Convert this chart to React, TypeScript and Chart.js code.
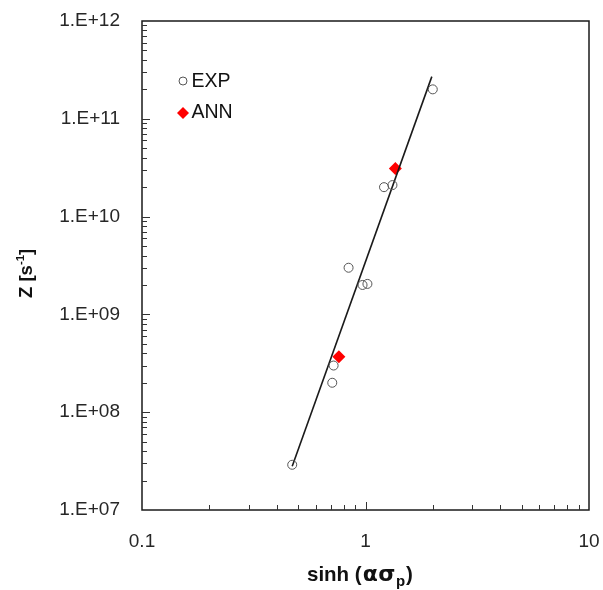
import React, { useEffect, useRef } from 'react';
import { Chart, registerables } from 'chart.js';

Chart.register(...registerables);

// ---- data ----
const expX = [2.0, 1.21, 1.32, 0.84, 0.97, 1.02, 0.72, 0.71, 0.47];
const expY = [2.0e11, 2.0e10, 2.1e10, 3.0e9, 2.0e9, 2.05e9, 3.0e8, 2.0e8, 2.9e7];
const annX = [1.36, 0.76];
const annY = [3.1e10, 3.7e8];
const fitX = [0.47, 1.98];
const fitY = [2.8e7, 2.7e11];
const seriesNames = ['EXP', 'ANN'];
const xTickValues = [0.1, 1, 10];
const xTickLabels = ['0.1', '1', '10'];
const yTickValues = [1e7, 1e8, 1e9, 1e10, 1e11, 1e12];
const yTickLabels = ['1.E+07', '1.E+08', '1.E+09', '1.E+10', '1.E+11', '1.E+12'];

const FONT = '"Liberation Sans", Arial, sans-serif';
const GREEK = '"DejaVu Sans", "Liberation Sans", sans-serif';
const TEXT = '#262626';

const findLabel = (vals: number[], labels: string[], v: number) => {
  const i = vals.findIndex((t) => Math.abs(t - v) / t < 1e-6);
  return i >= 0 ? labels[i] : '';
};

const framePlugin = {
  id: 'frame',
  afterDraw(chart: any) {
    const { ctx, chartArea: a, scales } = chart;
    const xs = scales.x;
    const ys = scales.y;
    ctx.save();
    // box
    ctx.strokeStyle = '#1a1a1a';
    ctx.lineWidth = 1.5;
    ctx.strokeRect(a.left, a.top, a.right - a.left, a.bottom - a.top);
    // ticks
    ctx.lineWidth = 1;
    ctx.strokeStyle = '#333';
    ctx.beginPath();
    for (let n = -1; n <= 0; n++) {
      for (let k = 1; k <= 9; k++) {
        const v = k * Math.pow(10, n);
        if (k === 1 && n === -1) continue;
        const px = Math.round(xs.getPixelForValue(v)) + 0.5;
        const len = k === 1 ? 8 : 5;
        ctx.moveTo(px, a.bottom);
        ctx.lineTo(px, a.bottom - len);
      }
    }
    for (let n = 7; n <= 11; n++) {
      for (let k = 1; k <= 9; k++) {
        if (k === 1 && n === 7) continue;
        const v = k * Math.pow(10, n);
        const py = Math.round(ys.getPixelForValue(v)) + 0.5;
        const len = k === 1 ? 8 : 5;
        ctx.moveTo(a.left, py);
        ctx.lineTo(a.left + len, py);
      }
    }
    ctx.stroke();

    // legend
    const lx = 183;
    const ly = [81, 113];
    ctx.strokeStyle = '#555';
    ctx.lineWidth = 1;
    ctx.beginPath();
    ctx.arc(lx, ly[0], 4, 0, Math.PI * 2);
    ctx.stroke();
    ctx.fillStyle = '#ff0000';
    ctx.beginPath();
    ctx.moveTo(lx, ly[1] - 6);
    ctx.lineTo(lx + 6, ly[1]);
    ctx.lineTo(lx, ly[1] + 6);
    ctx.lineTo(lx - 6, ly[1]);
    ctx.closePath();
    ctx.fill();
    ctx.fillStyle = '#111';
    ctx.font = `19.5px ${FONT}`;
    ctx.textBaseline = 'middle';
    ctx.textAlign = 'left';
    ctx.fillText(seriesNames[0], 191.5, ly[0] + 1);
    ctx.fillText(seriesNames[1], 191.5, ly[1]);

    // x title: sinh (ασp)
    ctx.textBaseline = 'alphabetic';
    ctx.fillStyle = '#111';
    const big = `bold 20.5px ${FONT}`;
    const greek = `bold 22px ${GREEK}`;
    const small = `bold 15px ${FONT}`;
    const by = 581;
    const pieces = [
      { t: 'sinh (', f: big, dy: 0, g: 1 },
      { t: '\u03B1', f: greek, dy: 0, g: 0.5 },
      { t: '\u03C3', f: greek, dy: 0, g: 0.5 },
      { t: 'p', f: small, dy: 5, g: 1 },
      { t: ')', f: big, dy: 0, g: 0 },
    ];
    let cx = 307;
    pieces.forEach((p) => {
      ctx.font = p.f;
      ctx.fillText(p.t, cx, by + p.dy);
      cx += ctx.measureText(p.t).width + p.g;
    });

    // y title: Z [s-1]
    ctx.save();
    ctx.translate(32, 298);
    ctx.rotate(-Math.PI / 2);
    const ybig = `bold 18.5px ${FONT}`;
    const ysmall = `bold 11.5px ${FONT}`;
    let yx = 0;
    ctx.font = ybig;
    const q1 = 'Z [s';
    ctx.fillText(q1, yx, 0);
    yx += ctx.measureText(q1).width;
    ctx.font = ysmall;
    ctx.fillText('-1', yx, -8);
    yx += ctx.measureText('-1').width;
    ctx.font = ybig;
    ctx.fillText(']', yx, 0);
    ctx.restore();

    ctx.restore();
  },
};

export default function App() {
  const ref = useRef<HTMLCanvasElement | null>(null);
  useEffect(() => {
    if (!ref.current) return;
    const chart = new Chart(ref.current, {
      type: 'scatter',
      data: {
        datasets: [
          {
            label: seriesNames[0],
            data: expX.map((v, i) => ({ x: v, y: expY[i] })),
            pointStyle: 'circle',
            pointRadius: 4.5,
            borderColor: '#555',
            borderWidth: 1,
            backgroundColor: 'rgba(0,0,0,0)',
          },
          {
            label: 'fit',
            data: fitX.map((v, i) => ({ x: v, y: fitY[i] })),
            showLine: true,
            borderColor: '#1a1a1a',
            borderWidth: 1.6,
            pointRadius: 0,
          },
          {
            label: seriesNames[1],
            data: annX.map((v, i) => ({ x: v, y: annY[i] })),
            pointStyle: 'rectRot',
            pointRadius: 6.5,
            borderWidth: 0,
            borderColor: '#ff0000',
            backgroundColor: '#ff0000',
          },
        ],
      },
      options: {
        animation: false,
        responsive: false,
        maintainAspectRatio: false,
        layout: { padding: { top: 21, right: 14, left: 0, bottom: 0 } },
        plugins: { legend: { display: false }, tooltip: { enabled: false } },
        scales: {
          x: {
            type: 'logarithmic',
            position: 'bottom',
            min: 0.1,
            max: 10,
            afterBuildTicks: (s: any) => {
              s.ticks = xTickValues.map((v) => ({ value: v }));
            },
            afterFit: (s: any) => {
              s.height = 80;
              s.paddingLeft = 0;
              s.paddingRight = 0;
              s.paddingTop = 0;
              s.paddingBottom = 0;
            },
            grid: { display: false, drawTicks: false, tickLength: 0 },
            border: { display: false },
            ticks: {
              autoSkip: false,
              maxRotation: 0,
              padding: 20,
              color: TEXT,
              font: { family: FONT, size: 19 },
              callback: (v: any) => findLabel(xTickValues, xTickLabels, Number(v)),
            },
          },
          y: {
            type: 'logarithmic',
            position: 'left',
            min: 1e7,
            max: 1e12,
            afterBuildTicks: (s: any) => {
              s.ticks = yTickValues.map((v) => ({ value: v }));
            },
            afterFit: (s: any) => {
              s.width = 142;
              s.paddingLeft = 0;
              s.paddingRight = 0;
              s.paddingTop = 0;
              s.paddingBottom = 0;
            },
            grid: { display: false, drawTicks: false, tickLength: 0 },
            border: { display: false },
            ticks: {
              autoSkip: false,
              padding: 22,
              color: TEXT,
              font: { family: FONT, size: 19 },
              callback: (v: any) => findLabel(yTickValues, yTickLabels, Number(v)),
            },
          },
        },
      },
      plugins: [framePlugin],
    } as any);
    return () => chart.destroy();
  }, []);
  return (
    <div style={{ position: 'fixed', left: 0, top: 0, width: 603, height: 590, background: '#fff' }}>
      <canvas ref={ref} width={603} height={590} style={{ display: 'block', width: 603, height: 590 }} />
    </div>
  );
}
